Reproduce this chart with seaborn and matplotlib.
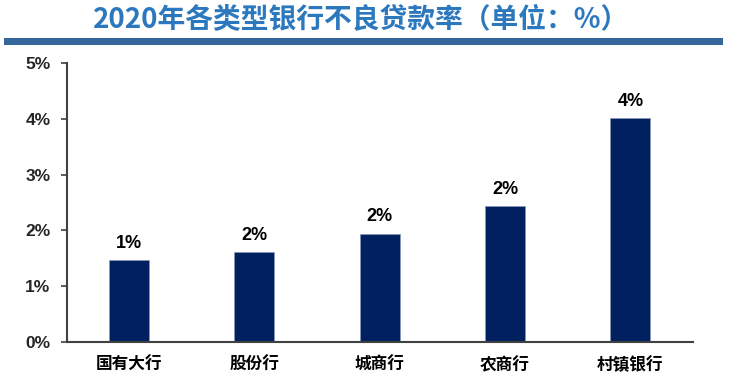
import matplotlib
matplotlib.use("Agg")
import matplotlib.pyplot as plt
from matplotlib.patches import Rectangle
import seaborn as sns
import pandas as pd

categories = ["国有大行", "股份行", "城商行", "农商行", "村镇银行"]
npl_ratio = [1.47, 1.61, 1.94, 2.43, 4.01]
y_ticks = [0, 1, 2, 3, 4, 5]
y_tick_labels = ["0%", "1%", "2%", "3%", "4%", "5%"]
title_text = "2020年各类型银行不良贷款率（单位：%）"

sns.set_theme(style="white")
plt.rcParams['font.family'] = ['Noto Sans CJK SC', 'DejaVu Sans']

df = pd.DataFrame({"cat": categories, "val": npl_ratio})

fig = plt.figure(figsize=(7.4, 3.82), dpi=100)
ax = fig.add_axes([66.5/740, 1-342.3/382, (693-66.5)/740, (342.3-62.7)/382])

sns.barplot(data=df, x="cat", y="val", ax=ax, color="#002060",
            width=0.32, saturation=1, edgecolor="#8898b8", linewidth=0.5)

ax.set_ylim(0, 5)
ax.set_xlim(-0.5, len(categories)-0.5)
ax.set_yticks(y_ticks)
ax.set_yticklabels(y_tick_labels, fontsize=12.5, fontweight="bold",
                   family=["Liberation Sans", "DejaVu Sans"])
ax.set_xticks(range(len(categories)))
ax.set_xticklabels(categories, fontsize=12, fontweight="bold", color="black")
ax.set_xlabel("")
ax.set_ylabel("")
for s in ["top", "right"]:
    ax.spines[s].set_visible(False)
for s in ["left", "bottom"]:
    ax.spines[s].set_color("#404040")
    ax.spines[s].set_linewidth(1.5)
ax.tick_params(axis="y", direction="out", length=4.5, width=1.2, color="#404040", pad=7, left=True)
ax.tick_params(axis="x", length=0, pad=10)

for i, v in enumerate(npl_ratio):
    ax.annotate(f"{v:.0f}%", (i, v), xytext=(0, 6), textcoords="offset points",
                ha="center", va="bottom", fontsize=13, fontweight="bold",
                family=["Liberation Sans", "DejaVu Sans"], color="black")

fig.text(361/740, 1-20/382, title_text, ha="center", va="center",
         fontsize=20, fontweight="bold", color="#2B78BE")
fig.patches.append(Rectangle((4/740, 1-45/382), (723-4)/740, 7.3/382,
                             transform=fig.transFigure, facecolor="#35679A",
                             edgecolor="none"))

fig.savefig("out.png", dpi=100, facecolor="white")
